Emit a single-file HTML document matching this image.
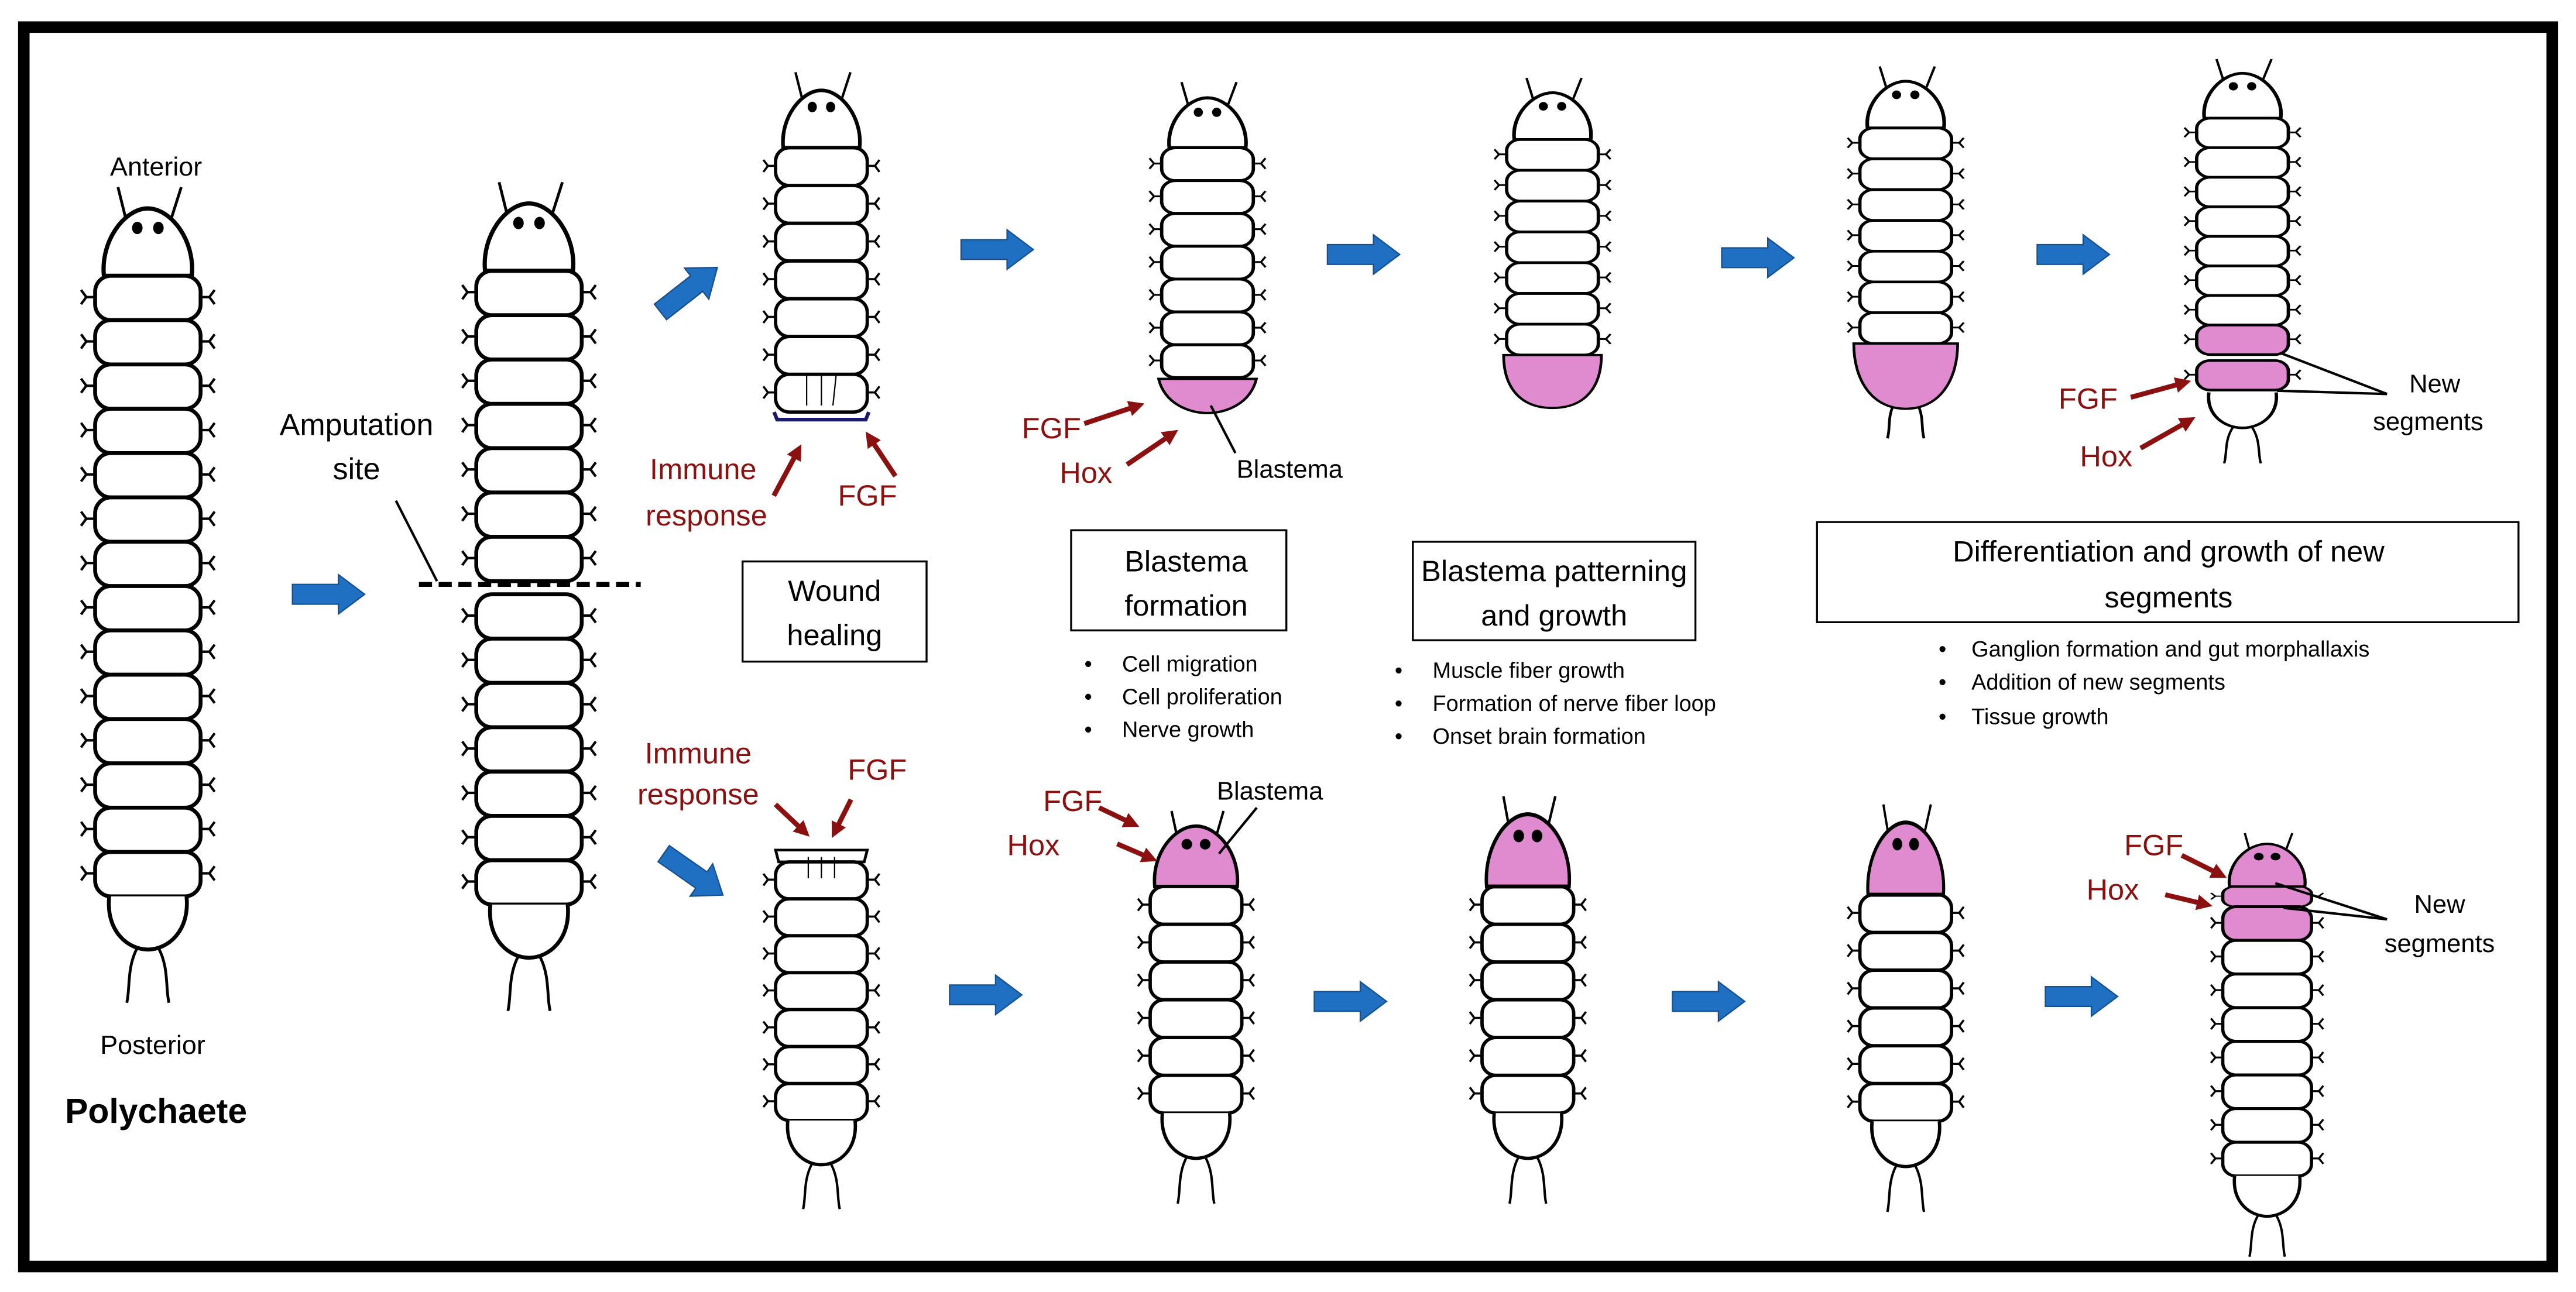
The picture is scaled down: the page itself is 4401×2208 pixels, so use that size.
<!DOCTYPE html>
<html><head><meta charset="utf-8"><style>
html,body{margin:0;padding:0;background:#fff}
svg{display:block}
text{font-family:"Liberation Sans",sans-serif}
</style></head><body>
<svg width="4401" height="2208" viewBox="0 0 1568 787" preserveAspectRatio="none" xmlns="http://www.w3.org/2000/svg">
<defs>
<g id="para" fill="none" stroke="#000" stroke-width="1.4">
<path d="M-30,12 l-5,0 m0,0 l-3,-4 m3,4 l-3,4 M30,12 l5,0 m0,0 l3,-4 m-3,4 l3,4"/>
</g>
<g id="seg"><rect x="-30" y="0" width="60" height="25" rx="9" fill="#fff" stroke="#000" stroke-width="2.2"/><use href="#para"/></g>
<g id="segp"><rect x="-30" y="0" width="60" height="25" rx="9" fill="#e08bd0" stroke="#000" stroke-width="2.2"/><use href="#para"/></g>
<g id="head"><path d="M-10,-22 L-17,-50 M10,-22 L19,-50" stroke="#000" stroke-width="1.6" fill="none"/><path d="M-25,0 C-27,-20 -13,-38 0,-38 C13,-38 27,-20 25,0 Z" fill="#fff" stroke="#000" stroke-width="2.4"/><ellipse cx="-6" cy="-27" rx="3" ry="3.5"/><ellipse cx="6" cy="-27" rx="3" ry="3.5"/></g>
<g id="headp"><path d="M-10,-22 L-16,-50 M10,-22 L18,-50" stroke="#000" stroke-width="1.6" fill="none"/><path d="M-27,0 C-29,-22 -14,-40 0,-40 C14,-40 29,-22 27,0 Z" fill="#e08bd0" stroke="#000" stroke-width="2.2"/><ellipse cx="-6" cy="-28" rx="3.5" ry="3.5"/><ellipse cx="6" cy="-28" rx="3.5" ry="3.5"/></g>
<g id="tail"><path d="M-22,0 C-24,20 -11,30 0,30 C11,30 24,20 22,0" fill="#fff" stroke="#000" stroke-width="2.2"/><path d="M-6,29 C-12,40 -10,52 -12,60 M6,29 C12,40 10,52 12,60" fill="none" stroke="#000" stroke-width="1.6"/></g>
<path id="barrow" d="M0,-6 L28,-6 L28,-12 L44,0 L28,12 L28,6 L0,6 Z" fill="#1f6fc2" stroke="#174f8c" stroke-width="0.8"/>
<marker id="rh" viewBox="0 0 10 10" refX="6" refY="5" markerWidth="3.2" markerHeight="3.2" orient="auto"><path d="M0,0 L10,5 L0,10 Z" fill="#8b1010"/></marker>
</defs>

<rect x="0" y="0" width="1568" height="787" fill="#fff"/>
<rect x="14.5" y="16.5" width="1539" height="755" fill="none" stroke="#000" stroke-width="7"/>

<!-- Worm 1 -->
<g transform="translate(90,168) scale(1.07,1.08)">
<use href="#head"/>
<use href="#seg" y="0"/><use href="#seg" y="25"/><use href="#seg" y="50"/><use href="#seg" y="75"/><use href="#seg" y="100"/><use href="#seg" y="125"/><use href="#seg" y="150"/><use href="#seg" y="175"/><use href="#seg" y="200"/><use href="#seg" y="225"/><use href="#seg" y="250"/><use href="#seg" y="275"/><use href="#seg" y="300"/><use href="#seg" y="325"/>
<use href="#tail" y="350"/>
</g>
<!-- Worm 2 -->
<g transform="translate(322,165) scale(1.07,1.08)">
<use href="#head"/>
<use href="#seg" y="0"/><use href="#seg" y="25"/><use href="#seg" y="50"/><use href="#seg" y="75"/><use href="#seg" y="100"/><use href="#seg" y="125"/><use href="#seg" y="150"/>
</g>
<g transform="translate(322,362) scale(1.07,1.08)">
<use href="#seg" y="0"/><use href="#seg" y="25"/><use href="#seg" y="50"/><use href="#seg" y="75"/><use href="#seg" y="100"/><use href="#seg" y="125"/><use href="#seg" y="150"/>
<use href="#tail" y="175"/>
</g>
<line x1="255" y1="356" x2="390" y2="356" stroke="#000" stroke-width="3" stroke-dasharray="8,4"/>

<!-- Worm 3 -->
<g transform="translate(500,90) scale(0.93,0.92)">
<use href="#head"/>
<use href="#seg" y="0"/><use href="#seg" y="25"/><use href="#seg" y="50"/><use href="#seg" y="75"/><use href="#seg" y="100"/><use href="#seg" y="125"/><use href="#seg" y="150"/>
<path d="M-31,175 L-29,180 L29,180 L31,175" fill="none" stroke="#1a1a6a" stroke-width="2.4"/>
</g>
<g stroke="#000" stroke-width="0.8"><line x1="491" y1="228" x2="491" y2="247"/><line x1="500" y1="228" x2="500" y2="247"/><line x1="509" y1="228" x2="507" y2="247"/></g>

<!-- Worm 4 -->
<g transform="translate(735,90) scale(0.93,0.8)">
<use href="#head"/>
<use href="#seg" y="0"/><use href="#seg" y="25"/><use href="#seg" y="50"/><use href="#seg" y="75"/><use href="#seg" y="100"/><use href="#seg" y="125"/><use href="#seg" y="150"/>
<path d="M-32,176 C-28,195 -12,202 0,202 C12,202 28,195 32,176 Z" fill="#e08bd0" stroke="#000" stroke-width="1.8"/>
</g>
<!-- Worm 5 -->
<g transform="translate(945,85) scale(0.93,0.75)">
<use href="#head"/>
<use href="#seg" y="0"/><use href="#seg" y="25"/><use href="#seg" y="50"/><use href="#seg" y="75"/><use href="#seg" y="100"/><use href="#seg" y="125"/><use href="#seg" y="150"/>
<path d="M-32,175 C-32,200 -22,218 0,218 C22,218 32,200 32,175 Z" fill="#e08bd0" stroke="#000" stroke-width="1.8"/>
</g>
<!-- Worm 6 -->
<g transform="translate(1160,78) scale(0.93,0.75)">
<use href="#head"/>
<use href="#seg" y="0"/><use href="#seg" y="25"/><use href="#seg" y="50"/><use href="#seg" y="75"/><use href="#seg" y="100"/><use href="#seg" y="125"/><use href="#seg" y="150"/>
<path d="M-8,225 C-12,235 -10,245 -12,252 M8,225 C12,235 10,245 12,252" fill="none" stroke="#000" stroke-width="1.8"/>
<path d="M-34,175 C-34,205 -22,228 0,228 C22,228 34,205 34,175 Z" fill="#e08bd0" stroke="#000" stroke-width="1.8"/>
</g>
<!-- Worm 7 -->
<g transform="translate(1365,72) scale(0.93,0.72)">
<use href="#head"/>
<use href="#seg" y="0"/><use href="#seg" y="25"/><use href="#seg" y="50"/><use href="#seg" y="75"/><use href="#seg" y="100"/><use href="#seg" y="125"/><use href="#seg" y="150"/>
<use href="#segp" y="175"/>
<use href="#segp" y="205"/>
<use href="#tail" y="232"/>
</g>

<!-- Bottom worms -->
<g transform="translate(500,525) scale(0.93,0.9)">
<path d="M-28,0 L-30,-8 L30,-8 L28,0 Z" fill="#fff" stroke="#000" stroke-width="1.8"/>
<use href="#seg" y="0"/><use href="#seg" y="25"/><use href="#seg" y="50"/><use href="#seg" y="75"/><use href="#seg" y="100"/><use href="#seg" y="125"/><use href="#seg" y="150"/>
<use href="#tail" y="175"/>
</g>
<g stroke="#000" stroke-width="0.8"><line x1="492" y1="535" x2="492" y2="522"/><line x1="500" y1="535" x2="500" y2="522"/><line x1="508" y1="535" x2="508" y2="522"/></g>

<g transform="translate(728,540) scale(0.93,0.92)">
<use href="#headp"/>
<use href="#seg" y="0"/><use href="#seg" y="25"/><use href="#seg" y="50"/><use href="#seg" y="75"/><use href="#seg" y="100"/><use href="#seg" y="125"/>
<use href="#tail" y="150"/>
</g>
<g transform="translate(930,540) scale(0.93,0.92)">
<use href="#seg" y="0"/><use href="#seg" y="25"/><use href="#seg" y="50"/><use href="#seg" y="75"/><use href="#seg" y="100"/><use href="#seg" y="125"/>
<use href="#tail" y="150"/>
</g>
<g transform="translate(930,540) scale(0.93,1.1)"><use href="#headp"/></g>
<g transform="translate(1160,545) scale(0.93,0.92)">
<use href="#seg" y="0"/><use href="#seg" y="25"/><use href="#seg" y="50"/><use href="#seg" y="75"/><use href="#seg" y="100"/><use href="#seg" y="125"/>
<use href="#tail" y="150"/>
</g>
<g transform="translate(1160,545) scale(0.85,1.1)"><use href="#headp"/></g>
<g transform="translate(1380,540) scale(0.9,0.82)">
<use href="#segp" y="0" transform="scale(1,0.6)"/>
<use href="#segp" y="15"/>
<use href="#seg" y="40"/><use href="#seg" y="65"/><use href="#seg" y="90"/><use href="#seg" y="115"/><use href="#seg" y="140"/><use href="#seg" y="165"/><use href="#seg" y="190"/>
<use href="#tail" y="215"/>
</g>
<g transform="translate(1380,540) scale(0.85,0.65)"><use href="#headp"/></g>

<!-- Blue arrows -->
<use href="#barrow" transform="translate(178,362)"/>
<use href="#barrow" transform="translate(402,190) rotate(-38)"/>
<use href="#barrow" transform="translate(585,152)"/>
<use href="#barrow" transform="translate(808,155)"/>
<use href="#barrow" transform="translate(1048,157)"/>
<use href="#barrow" transform="translate(1240,155)"/>
<use href="#barrow" transform="translate(404,520) rotate(35)"/>
<use href="#barrow" transform="translate(578,606)"/>
<use href="#barrow" transform="translate(800,610)"/>
<use href="#barrow" transform="translate(1018,610)"/>
<use href="#barrow" transform="translate(1245,607)"/>

<!-- Red arrows -->
<g stroke="#8b1010" stroke-width="3" marker-end="url(#rh)">
<line x1="471" y1="302" x2="486" y2="274"/>
<line x1="545" y1="290" x2="529" y2="266"/>
<line x1="660" y1="258" x2="693" y2="247"/>
<line x1="686" y1="283" x2="714" y2="264"/>
<line x1="1297" y1="242" x2="1330" y2="233"/>
<line x1="1303" y1="273" x2="1333" y2="256"/>
<line x1="472" y1="490" x2="490" y2="507"/>
<line x1="518" y1="487" x2="508" y2="507"/>
<line x1="669" y1="492" x2="690" y2="502"/>
<line x1="680" y1="514" x2="701" y2="523"/>
<line x1="1328" y1="521" x2="1352" y2="533"/>
<line x1="1318" y1="545" x2="1343" y2="551"/>
</g>

<!-- pointer lines -->
<g stroke="#000" stroke-width="1.5" fill="none">
<line x1="241" y1="305" x2="266" y2="354"/>
<line x1="737" y1="247" x2="752" y2="276"/>
<path d="M1453,240 L1388,215 M1453,240 L1386,238"/>
<line x1="765" y1="492" x2="742" y2="520"/>
<path d="M1453,560 L1385,538 M1453,560 L1390,553"/>
</g>

<!-- Boxes -->
<g fill="none" stroke="#000" stroke-width="1.2">
<rect x="452" y="342" width="112" height="61"/>
<rect x="652" y="323" width="131" height="61"/>
<rect x="860" y="330" width="172" height="60"/>
<rect x="1106" y="318" width="427" height="61"/>
</g>

<!-- Text -->
<g font-size="16" fill="#000" text-anchor="middle">
<text x="95" y="107">Anterior</text>
<text x="93" y="642">Posterior</text>
</g>
<text x="95" y="684" font-size="21" font-weight="bold" text-anchor="middle">Polychaete</text>
<g font-size="18.5" text-anchor="middle">
<text x="217" y="265">Amputation</text>
<text x="217" y="292">site</text>
</g>
<g font-size="18" text-anchor="middle">
<text x="508" y="366">Wound</text>
<text x="508" y="393">healing</text>
<text x="722" y="348">Blastema</text>
<text x="722" y="375">formation</text>
<text x="946" y="354" textLength="162" lengthAdjust="spacingAndGlyphs">Blastema patterning</text>
<text x="946" y="381">and growth</text>
<text x="1320" y="342">Differentiation and growth  of new</text>
<text x="1320" y="370">segments</text>
</g>
<g font-size="18" fill="#8b1010">
<text x="428" y="292" text-anchor="middle">Immune</text>
<text x="430" y="320" text-anchor="middle">response</text>
<text x="510" y="308">FGF</text>
<text x="622" y="267">FGF</text>
<text x="645" y="294">Hox</text>
<text x="1253" y="249">FGF</text>
<text x="1266" y="284">Hox</text>
<text x="425" y="465" text-anchor="middle">Immune</text>
<text x="425" y="490" text-anchor="middle">response</text>
<text x="516" y="475">FGF</text>
<text x="635" y="494">FGF</text>
<text x="613" y="521">Hox</text>
<text x="1293" y="521">FGF</text>
<text x="1270" y="548">Hox</text>
</g>
<g font-size="15.5" text-anchor="middle">
<text x="785" y="291">Blastema</text>
<text x="773" y="487">Blastema</text>
<text x="1482" y="239">New</text>
<text x="1478" y="262">segments</text>
<text x="1485" y="556">New</text>
<text x="1485" y="580">segments</text>
</g>
<g font-size="13.5">
<text x="660" y="409">•</text><text x="683" y="409">Cell migration</text>
<text x="660" y="429">•</text><text x="683" y="429">Cell proliferation</text>
<text x="660" y="449">•</text><text x="683" y="449">Nerve growth</text>
<text x="849" y="413">•</text><text x="872" y="413">Muscle fiber growth</text>
<text x="849" y="433">•</text><text x="872" y="433">Formation of nerve fiber loop</text>
<text x="849" y="453">•</text><text x="872" y="453">Onset brain formation</text>
<text x="1180" y="400">•</text><text x="1200" y="400">Ganglion formation and gut morphallaxis</text>
<text x="1180" y="420">•</text><text x="1200" y="420">Addition of new segments</text>
<text x="1180" y="441">•</text><text x="1200" y="441">Tissue growth</text>
</g>
</svg>
</body></html>
